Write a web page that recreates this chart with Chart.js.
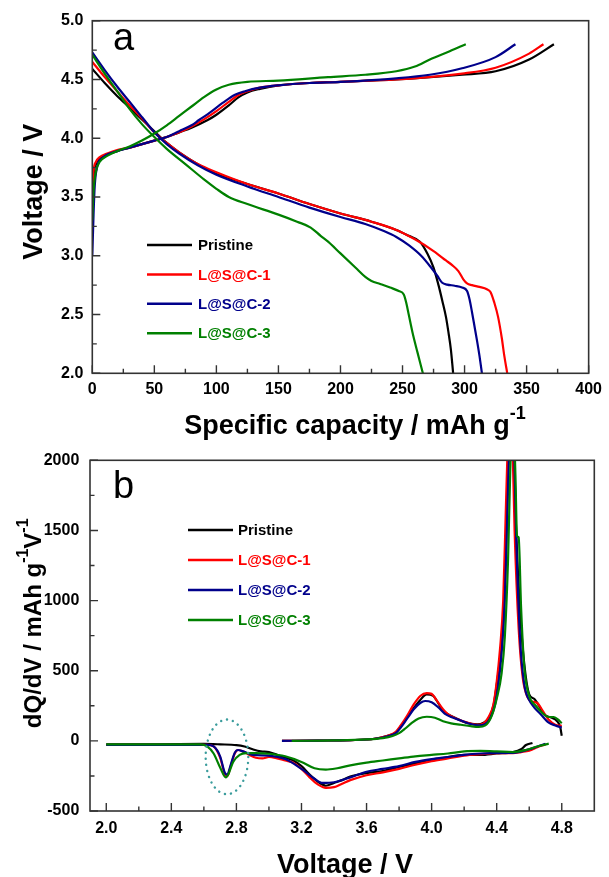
<!DOCTYPE html>
<html>
<head>
<meta charset="UTF-8">
<title>Charge/discharge and dQ/dV</title>
<script src="https://cdn.jsdelivr.net/npm/chart.js"></script>
<style>
  body { margin: 0; background: #fff; }
  canvas { position: absolute; left: 0; }
  #chartA { top: 0; }
  #chartB { top: 440px; }
</style>
</head>
<body>
<canvas id="chartA" width="609" height="440"></canvas>
<canvas id="chartB" width="609" height="437"></canvas>
<script>
// ---------- data ----------
const sampleNames = ["Pristine", "L@S@C-1", "L@S@C-2", "L@S@C-3"];

// panel a: charge curves (capacity mAh/g, voltage V)
const chgCapP  = [0, 1, 3, 6, 12, 20, 30, 40, 50, 60, 70, 80, 93, 100, 110, 118, 125, 135, 150, 175, 200, 245, 298, 325, 352, 372];
const chgVoltP = [3.45, 3.68, 3.78, 3.83, 3.86, 3.89, 3.92, 3.95, 3.98, 4.01, 4.05, 4.09, 4.155, 4.2, 4.28, 4.35, 4.39, 4.42, 4.45, 4.47, 4.48, 4.5, 4.54, 4.57, 4.67, 4.8];
const chgCap1  = [0, 1, 3, 6, 12, 20, 30, 40, 50, 60, 70, 80, 90, 100, 110, 118, 125, 135, 150, 175, 200, 245, 298, 325, 352, 363.6];
const chgVolt1 = [3.5, 3.72, 3.8, 3.84, 3.87, 3.9, 3.92, 3.95, 3.98, 4.01, 4.05, 4.1, 4.16, 4.23, 4.31, 4.37, 4.4, 4.43, 4.45, 4.47, 4.48, 4.5, 4.55, 4.6, 4.72, 4.8];
const chgCap2  = [0, 1, 2, 4, 8, 14, 20, 30, 40, 50, 60, 70, 80, 86, 95, 105, 115, 123, 135, 150, 175, 200, 245, 272, 298, 325, 341];
const chgVolt2 = [3.0, 3.35, 3.6, 3.76, 3.83, 3.87, 3.89, 3.92, 3.95, 3.98, 4.01, 4.06, 4.11, 4.155, 4.22, 4.3, 4.37, 4.4, 4.43, 4.45, 4.47, 4.48, 4.51, 4.54, 4.595, 4.69, 4.8];
const chgCap3  = [0, 1, 3, 6, 12, 20, 30, 40, 50, 60, 70, 80, 90, 100, 110, 125, 150, 190, 220, 245, 260, 272, 288, 301];
const chgVolt3 = [3.3, 3.55, 3.72, 3.8, 3.85, 3.89, 3.93, 3.98, 4.04, 4.11, 4.19, 4.27, 4.35, 4.415, 4.455, 4.48, 4.49, 4.52, 4.54, 4.57, 4.61, 4.67, 4.74, 4.8];

// panel a: discharge curves
const disCapP  = [0, 10, 20, 30, 40, 50, 60, 70, 85, 100, 125, 150, 175, 200, 225, 245, 255, 264, 270, 275, 279, 282, 285, 287, 289, 290.8];
const disVoltP = [4.59, 4.47, 4.36, 4.26, 4.16, 4.06, 3.96, 3.88, 3.78, 3.70, 3.61, 3.53, 3.44, 3.36, 3.29, 3.22, 3.17, 3.12, 3.02, 2.9, 2.75, 2.62, 2.48, 2.35, 2.2, 2.0];
const disCap1  = [0, 10, 20, 30, 40, 50, 60, 70, 85, 100, 125, 150, 175, 200, 225, 245, 260, 275, 285, 290, 295, 299, 302, 306, 312, 318, 321, 324, 327, 330, 332, 334.4];
const disVolt1 = [4.65, 4.52, 4.40, 4.28, 4.17, 4.05, 3.96, 3.88, 3.78, 3.71, 3.61, 3.53, 3.44, 3.36, 3.29, 3.22, 3.14, 3.04, 2.96, 2.92, 2.87, 2.80, 2.765, 2.75, 2.735, 2.715, 2.69, 2.6, 2.48, 2.3, 2.15, 2.0];
const disCap2  = [0, 10, 20, 30, 40, 50, 60, 70, 85, 100, 125, 150, 175, 200, 220, 235, 245, 255, 265, 273, 278, 282, 286, 292, 298, 302, 304, 306, 308, 310, 312, 314];
const disVolt2 = [4.73, 4.58, 4.44, 4.31, 4.18, 4.05, 3.95, 3.87, 3.77, 3.69, 3.59, 3.50, 3.41, 3.33, 3.27, 3.21, 3.16, 3.09, 3.0, 2.9, 2.83, 2.77, 2.755, 2.745, 2.73, 2.70, 2.63, 2.52, 2.4, 2.28, 2.15, 2.0];
const disCap3  = [0, 10, 20, 30, 40, 50, 60, 75, 90, 100, 110, 125, 150, 165, 176, 184, 190, 200, 212, 220, 225, 232, 240, 247, 251, 253, 255, 258, 262, 266.4];
const disVolt3 = [4.71, 4.55, 4.40, 4.25, 4.12, 4.01, 3.91, 3.78, 3.65, 3.57, 3.50, 3.44, 3.35, 3.29, 3.24, 3.17, 3.12, 3.02, 2.9, 2.82, 2.785, 2.76, 2.73, 2.70, 2.67, 2.6, 2.5, 2.35, 2.18, 2.0];

// panel b: dQ/dV, charge branch (voltage V, mAh g-1 V-1)
const upVP  = [3.08, 3.3, 3.5, 3.65, 3.73, 3.78, 3.805, 3.84, 3.877, 3.925, 3.97, 4.01, 4.04, 4.07, 4.1, 4.14, 4.21, 4.28, 4.32, 4.354, 4.38, 4.4, 4.42, 4.437, 4.46, 4.47, 4.485, 4.5, 4.52, 4.545, 4.57, 4.6, 4.63, 4.66, 4.69, 4.735, 4.77, 4.79, 4.8];
const upDqP = [0, 2, 5, 15, 36, 60, 95, 150, 213, 284, 331, 320, 270, 213, 190, 166, 130, 118, 130, 166, 250, 400, 580, 780, 1488, 2000, 2400, 2300, 1488, 898, 543, 331, 300, 250, 189, 166, 142, 100, 36];
const upV1  = [3.08, 3.3, 3.5, 3.65, 3.73, 3.78, 3.81, 3.85, 3.89, 3.93, 3.97, 4.0, 4.03, 4.07, 4.1, 4.15, 4.22, 4.28, 4.32, 4.35, 4.38, 4.4, 4.42, 4.44, 4.455, 4.465, 4.48, 4.495, 4.51, 4.535, 4.56, 4.59, 4.62, 4.65, 4.68, 4.72, 4.76, 4.8];
const upDq1 = [0, 2, 5, 15, 36, 65, 110, 180, 260, 320, 340, 335, 290, 225, 190, 160, 130, 115, 125, 170, 260, 420, 650, 1000, 1600, 2000, 2400, 2200, 1500, 800, 450, 310, 280, 270, 220, 150, 115, 107];
const upV2  = [3.08, 3.3, 3.5, 3.65, 3.73, 3.78, 3.81, 3.85, 3.89, 3.93, 3.96, 4.0, 4.04, 4.08, 4.12, 4.18, 4.24, 4.29, 4.33, 4.36, 4.39, 4.41, 4.43, 4.45, 4.465, 4.475, 4.49, 4.505, 4.52, 4.545, 4.57, 4.6, 4.63, 4.67, 4.72, 4.76, 4.8];
const upDq2 = [0, 2, 5, 15, 33, 55, 95, 160, 225, 270, 284, 275, 240, 195, 170, 145, 120, 110, 120, 160, 260, 400, 620, 1000, 1600, 2000, 2400, 2200, 1450, 700, 400, 290, 240, 190, 130, 110, 95];
const upV3  = [3.14, 3.4, 3.6, 3.7, 3.76, 3.8, 3.84, 3.88, 3.92, 3.97, 4.02, 4.07, 4.12, 4.18, 4.24, 4.29, 4.33, 4.37, 4.4, 4.43, 4.45, 4.47, 4.485, 4.5, 4.515, 4.525, 4.535, 4.55, 4.57, 4.6, 4.64, 4.68, 4.72, 4.75, 4.78, 4.8];
const upDq3 = [0, 3, 10, 20, 35, 55, 90, 130, 160, 172, 165, 140, 125, 115, 105, 100, 110, 180, 300, 480, 740, 1300, 2000, 2400, 1900, 1460, 1450, 950, 520, 320, 250, 200, 170, 170, 150, 125];

// panel b: dQ/dV, discharge branch
const downVP  = [2.0, 2.3, 2.6, 2.7, 2.8, 2.85, 2.9, 2.95, 3.0, 3.05, 3.1, 3.15, 3.2, 3.25, 3.3, 3.35, 3.4, 3.45, 3.5, 3.6, 3.7, 3.8, 3.9, 4.0, 4.1, 4.2, 4.3, 4.4, 4.5, 4.55, 4.58, 4.62];
const downDqP = [-25, -25, -22, -25, -30, -40, -60, -75, -80, -100, -120, -140, -180, -240, -290, -320, -300, -280, -255, -230, -215, -185, -160, -140, -115, -100, -100, -90, -80, -60, -30, -15];
const downV1  = [2.0, 2.3, 2.62, 2.66, 2.7, 2.73, 2.745, 2.76, 2.79, 2.81, 2.84, 2.88, 2.92, 2.96, 3.0, 3.05, 3.1, 3.15, 3.2, 3.25, 3.3, 3.35, 3.4, 3.45, 3.5, 3.6, 3.7, 3.8, 3.9, 4.0, 4.1, 4.2, 4.3, 4.4, 4.5, 4.55, 4.6, 4.65, 4.7];
const downDq1 = [-28, -28, -28, -40, -120, -240, -250, -200, -90, -65, -75, -100, -120, -125, -115, -125, -140, -155, -200, -260, -310, -335, -330, -305, -280, -245, -225, -200, -170, -145, -125, -105, -95, -88, -88, -80, -70, -45, -25];
const downV2  = [2.0, 2.3, 2.62, 2.66, 2.7, 2.73, 2.745, 2.76, 2.79, 2.81, 2.84, 2.9, 3.0, 3.1, 3.2, 3.28, 3.33, 3.4, 3.5, 3.6, 3.7, 3.8, 3.9, 4.0, 4.1, 4.2, 4.3, 4.4, 4.5, 4.6, 4.65, 4.7];
const downDq2 = [-28, -28, -28, -40, -110, -230, -240, -190, -85, -65, -75, -100, -105, -130, -200, -270, -300, -295, -260, -220, -200, -180, -150, -130, -115, -100, -90, -85, -85, -60, -40, -20];
const downV3  = [2.0, 2.3, 2.58, 2.62, 2.66, 2.7, 2.735, 2.75, 2.78, 2.82, 2.86, 2.92, 3.0, 3.1, 3.2, 3.28, 3.35, 3.42, 3.5, 3.6, 3.7, 3.8, 3.9, 4.0, 4.1, 4.2, 4.3, 4.4, 4.5, 4.58, 4.65, 4.72];
const downDq3 = [-25, -25, -25, -40, -90, -190, -260, -240, -150, -100, -88, -88, -92, -110, -150, -195, -205, -195, -175, -155, -140, -125, -110, -100, -90, -75, -72, -75, -80, -65, -40, -20];

// ticks
const aCapTicks  = [0, 25, 50, 75, 100, 125, 150, 175, 200, 225, 250, 275, 300, 325, 350, 375, 400];
const aCapLabels = [0, 50, 100, 150, 200, 250, 300, 350, 400];
const aVoltTicks  = [2.0, 2.25, 2.5, 2.75, 3.0, 3.25, 3.5, 3.75, 4.0, 4.25, 4.5, 4.75, 5.0];
const aVoltLabels = [2.0, 2.5, 3.0, 3.5, 4.0, 4.5, 5.0];
const bVoltTicks  = [2.0, 2.2, 2.4, 2.6, 2.8, 3.0, 3.2, 3.4, 3.6, 3.8, 4.0, 4.2, 4.4, 4.6, 4.8];
const bVoltLabels = [2.0, 2.4, 2.8, 3.2, 3.6, 4.0, 4.4, 4.8];
const bDqTicks  = [-500, -250, 0, 250, 500, 750, 1000, 1250, 1500, 1750, 2000];
const bDqLabels = [-500, 0, 500, 1000, 1500, 2000];

// highlighted region in panel b (voltage, dQ/dV, half-widths)
const markCenter = [2.742, -114];
const markRadius = [0.131, 266];

// ---------- styling ----------
const colors = ["#000000", "#ff0000", "#00008b", "#008000"];
const FONT = '"Liberation Sans", Arial, sans-serif';

function series(xs, ys, color) {
  return {
    data: xs.map((x, i) => ({ x: x, y: ys[i] })),
    borderColor: color,
    borderWidth: 2.2,
    pointRadius: 0,
    fill: false,
    cubicInterpolationMode: 'monotone'
  };
}

function near(list, v) {
  return list.some(t => Math.abs(t - v) < 1e-6);
}

// axis with fixed tick list, labels only on some of them
function axis(min, max, tickList, labelList, fmt, pad, fitKey, fitSize) {
  return {
    type: 'linear', min: min, max: max,
    grid: { display: false, drawTicks: false },
    border: { display: false },
    afterBuildTicks: s => { s.ticks = tickList.map(v => ({ value: v })); },
    afterFit: s => { s[fitKey] = fitSize; },
    ticks: {
      autoSkip: false, maxRotation: 0, padding: pad, color: '#000',
      font: { family: FONT, size: 16, weight: 'bold' },
      callback: v => near(labelList, v) ? fmt(v) : ''
    }
  };
}

// frame + inward ticks
const frame = {
  id: 'frame',
  afterDatasetsDraw(chart) {
    const { ctx, chartArea: a, scales } = chart;
    ctx.save();
    ctx.strokeStyle = '#333';
    ctx.lineWidth = 1.6;
    ctx.strokeRect(a.left, a.top, a.right - a.left, a.bottom - a.top);
    ctx.lineWidth = 1.4;
    ctx.beginPath();
    scales.x.ticks.forEach(t => {
      const p = scales.x.getPixelForValue(t.value);
      const len = t.label !== '' ? 8 : 4.5;
      ctx.moveTo(p, a.bottom); ctx.lineTo(p, a.bottom - len);
    });
    scales.y.ticks.forEach(t => {
      const p = scales.y.getPixelForValue(t.value);
      const len = t.label !== '' ? 8 : 4.5;
      ctx.moveTo(a.left, p); ctx.lineTo(a.left + len, p);
    });
    ctx.stroke();
    ctx.restore();
  }
};

// text with superscripts; baseline at (x, y), centred, optionally rotated
function drawRich(ctx, parts, x, y, size, rotate) {
  ctx.save();
  ctx.translate(x, y);
  if (rotate) ctx.rotate(-Math.PI / 2);
  ctx.fillStyle = '#000';
  ctx.textBaseline = 'alphabetic';
  ctx.textAlign = 'left';
  const supSize = Math.round(size * 0.65);
  const fonts = parts.map(p => 'bold ' + (p[1] ? supSize : size) + 'px ' + FONT);
  const widths = parts.map((p, i) => { ctx.font = fonts[i]; return ctx.measureText(p[0]).width; });
  let cx = -widths.reduce((s, w) => s + w, 0) / 2;
  parts.forEach((p, i) => {
    ctx.font = fonts[i];
    ctx.fillText(p[0], cx, p[1] ? -size * 0.55 : 0);
    cx += widths[i];
  });
  ctx.restore();
}

function makeDecor(opt) {
  return {
    id: 'decor',
    afterDraw(chart) {
      const { ctx } = chart;
      ctx.save();
      // panel letter
      ctx.fillStyle = '#000';
      ctx.font = '38px ' + FONT;
      ctx.textBaseline = 'alphabetic';
      ctx.fillText(opt.letter, opt.letterX, opt.letterY);
      // legend
      ctx.font = 'bold 15px ' + FONT;
      ctx.textBaseline = 'middle';
      ctx.lineWidth = 2.5;
      sampleNames.forEach((name, i) => {
        const y = opt.legY + i * opt.legDy;
        ctx.strokeStyle = colors[i];
        ctx.beginPath(); ctx.moveTo(opt.legX0, y); ctx.lineTo(opt.legX1, y); ctx.stroke();
        ctx.fillStyle = colors[i];
        ctx.fillText(name, opt.legTx, y + 1);
      });
      ctx.restore();
      drawRich(ctx, opt.xTitle, opt.xTitleX, opt.xTitleY, opt.xTitleSize, false);
      drawRich(ctx, opt.yTitle, opt.yTitleX, opt.yTitleY, opt.yTitleSize, true);
      if (opt.mark) opt.mark(chart);
    }
  };
}

Chart.defaults.animation = false;

// ---------- panel a ----------
const dataA = [];
[[chgCap3, chgVolt3, disCap3, disVolt3], [chgCap2, chgVolt2, disCap2, disVolt2],
 [chgCap1, chgVolt1, disCap1, disVolt1], [chgCapP, chgVoltP, disCapP, disVoltP]]
  .forEach((s, k) => {
    const c = colors[3 - k];
    dataA.push(series(s[0], s[1], c), series(s[2], s[3], c));
  });

new Chart(document.getElementById('chartA'), {
  type: 'line',
  data: { datasets: dataA },
  options: {
    responsive: false,
    layout: { padding: { top: 20.7, right: 15, left: 0, bottom: 0 } },
    plugins: { legend: { display: false }, tooltip: { enabled: false } },
    scales: {
      x: axis(0, 400, aCapTicks, aCapLabels, v => String(v), 7, 'height', 66.7),
      y: axis(2, 5, aVoltTicks, aVoltLabels, v => v.toFixed(1), 9, 'width', 92.3)
    }
  },
  plugins: [frame, makeDecor({
    letter: 'a', letterX: 113, letterY: 50,
    legX0: 147, legX1: 192, legTx: 198, legY: 245, legDy: 29.4,
    xTitle: [['Specific capacity / mAh g', false], ['-1', true]],
    xTitleX: 355, xTitleY: 434, xTitleSize: 27,
    yTitle: [['Voltage / V', false]],
    yTitleX: 41.7, yTitleY: 191.7, yTitleSize: 27
  })]
});

// ---------- panel b ----------
const dataB = [];
[[upV3, upDq3, downV3, downDq3], [upV2, upDq2, downV2, downDq2],
 [upV1, upDq1, downV1, downDq1], [upVP, upDqP, downVP, downDqP]]
  .forEach((s, k) => {
    const c = colors[3 - k];
    dataB.push(series(s[0], s[1], c), series(s[2], s[3], c));
  });

function drawMark(chart) {
  const { ctx, scales: { x, y } } = chart;
  const cx = x.getPixelForValue(markCenter[0]);
  const cy = y.getPixelForValue(markCenter[1]);
  const rx = Math.abs(x.getPixelForValue(markCenter[0] + markRadius[0]) - cx);
  const ry = Math.abs(y.getPixelForValue(markCenter[1] + markRadius[1]) - cy);
  ctx.save();
  ctx.strokeStyle = '#3a9c9c';
  ctx.lineWidth = 2.4;
  ctx.lineCap = 'round';
  ctx.setLineDash([0.1, 6]);
  ctx.beginPath();
  ctx.ellipse(cx, cy, rx, ry, 0, 0, Math.PI * 2);
  ctx.stroke();
  ctx.restore();
}

new Chart(document.getElementById('chartB'), {
  type: 'line',
  data: { datasets: dataB },
  options: {
    responsive: false,
    layout: { padding: { top: 19, right: 14.7, left: 0, bottom: 0 } },
    plugins: { legend: { display: false }, tooltip: { enabled: false } },
    scales: {
      x: axis(1.9, 5.0, bVoltTicks, bVoltLabels, v => v.toFixed(1), 7.5, 'height', 66),
      y: axis(-500, 2000, bDqTicks, bDqLabels, v => String(v), 10.7, 'width', 90)
    }
  },
  plugins: [frame, makeDecor({
    letter: 'b', letterX: 113, letterY: 58,
    legX0: 188, legX1: 233, legTx: 238, legY: 90, legDy: 30,
    xTitle: [['Voltage / V', false]],
    xTitleX: 345, xTitleY: 433.3, xTitleSize: 27,
    yTitle: [['dQ/dV / mAh g', false], ['-1', true], ['V', false], ['-1', true]],
    yTitleX: 40.8, yTitleY: 183.3, yTitleSize: 24,
    mark: drawMark
  })]
});
</script>
</body>
</html>
